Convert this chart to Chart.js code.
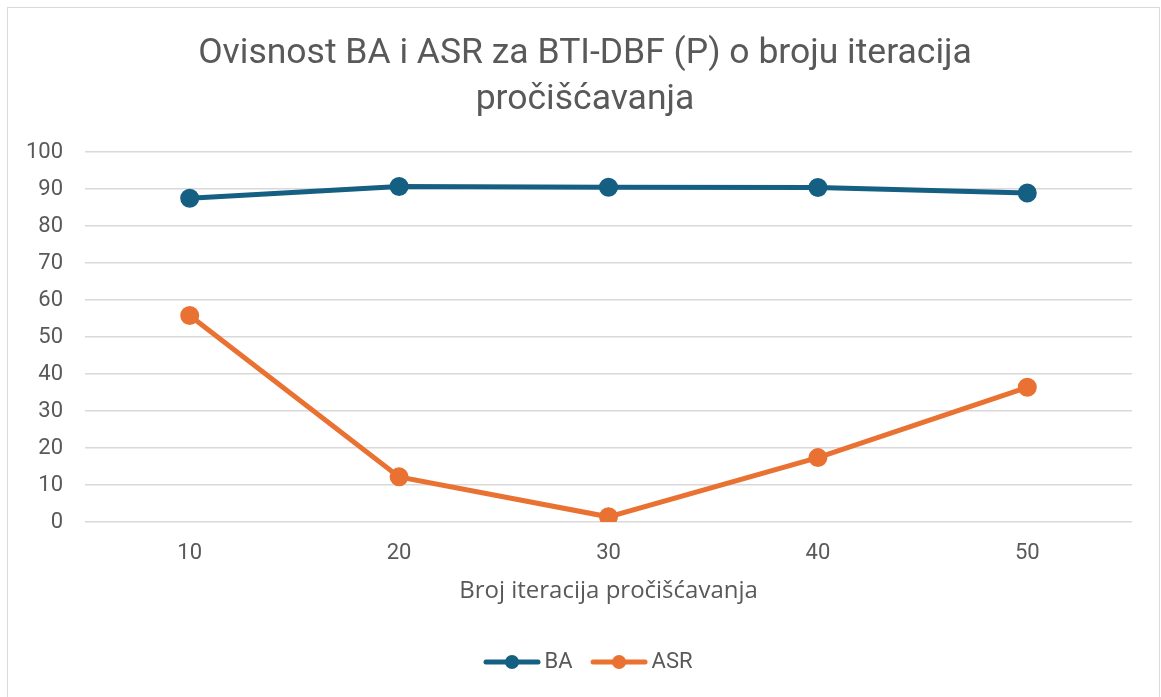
<!DOCTYPE html>
<html>
<head>
<meta charset="utf-8">
<script src="https://cdn.jsdelivr.net/npm/chart.js@4.4.1/dist/chart.umd.min.js"></script>
<style>
html,body{margin:0;padding:0;background:#fff;overflow:hidden;}
#box{position:absolute;left:0;top:0;width:1161px;height:697px;}
#frame{position:absolute;left:7px;top:7px;width:1153px;height:700px;border:1px solid #d9d9d9;box-sizing:border-box;pointer-events:none;}
</style>
</head>
<body>
<div id="box"><canvas id="chart"></canvas></div>
<div id="frame"></div>
<script>
// data
const iterations = ['10', '20', '30', '40', '50'];
const baValues = [87.5, 90.7, 90.5, 90.4, 88.9];
const asrValues = [55.8, 12.2, 1.4, 17.4, 36.4];

const BLUE = '#156082';
const ORANGE = '#E97132';
const TEXT = '#595959';
const FONT = 'Roboto, "Liberation Sans", sans-serif';

// legend marker: short line with a dot, like Excel
function legendIcon(color){
  const c = document.createElement('canvas');
  c.width = 60; c.height = 18;
  const g = c.getContext('2d');
  g.strokeStyle = color; g.lineWidth = 5; g.lineCap = 'round';
  g.beginPath(); g.moveTo(4, 9); g.lineTo(56, 9); g.stroke();
  g.fillStyle = color;
  g.beginPath(); g.arc(30, 9, 7, 0, Math.PI*2); g.fill();
  return c;
}

// Excel centres title and legend on the whole chart box, not the padded area
const recentre = {
  id: 'recentre',
  afterLayout(chart){
    if (chart.titleBlock) chart.titleBlock.left = 38;
    if (chart.legend) chart.legend.left = 51;
  }
};

Chart.defaults.font.family = FONT;
Chart.defaults.color = TEXT;

new Chart(document.getElementById('chart'), {
  type: 'line',
  data: {
    labels: iterations,
    datasets: [
      {label:'BA', data: baValues, borderColor: BLUE, backgroundColor: BLUE, borderWidth: 5,
       pointRadius: 7, pointHoverRadius: 7, pointStyle: 'circle', tension: 0},
      {label:'ASR', data: asrValues, borderColor: ORANGE, backgroundColor: ORANGE, borderWidth: 5,
       pointRadius: 7, pointHoverRadius: 7, pointStyle: 'circle', tension: 0}
    ]
  },
  plugins: [recentre],
  options: {
    responsive: true,
    maintainAspectRatio: false,
    animation: false,
    layout: {padding: {left: 10, right: 29, top: 31, bottom: 14}},
    plugins: {
      title: {
        display: true,
        text: ['Ovisnost BA i ASR za BTI-DBF (P) o broju iteracija', 'pročišćavanja'],
        font: {size: 35.5, weight: 'normal', lineHeight: 1.296},
        color: TEXT,
        padding: {top: 0, bottom: 29}
      },
      legend: {
        position: 'bottom',
        labels: {
          usePointStyle: true,
          pointStyleWidth: 43,
          padding: 25,
          font: {size: 22},
          color: TEXT,
          generateLabels: chart => chart.data.datasets.map((ds, i) => ({
            text: ds.label,
            pointStyle: legendIcon(ds.borderColor),
            fillStyle: ds.borderColor,
            strokeStyle: ds.borderColor,
            lineWidth: 0,
            fontColor: TEXT,
            datasetIndex: i,
            hidden: false
          }))
        }
      },
      tooltip: {enabled: false}
    },
    scales: {
      x: {
        offset: true,
        grid: {display: false, drawTicks: false},
        border: {display: false},
        ticks: {font: {size: 22}, color: TEXT, padding: 18.3},
        title: {display: true, text: 'Broj iteracija pročišćavanja',
                font: {family: '"Open Sans", Roboto, sans-serif', size: 24}, color: TEXT,
                padding: {top: -7.8, bottom: 20}}
      },
      y: {
        min: 0, max: 100,
        afterFit: s => { s.width = 75; },
        ticks: {stepSize: 10, font: {size: 22}, color: TEXT, padding: 22},
        grid: {color: '#d9d9d9', lineWidth: 1.5, drawTicks: false},
        border: {display: false}
      }
    }
  }
});
</script>
</body>
</html>
